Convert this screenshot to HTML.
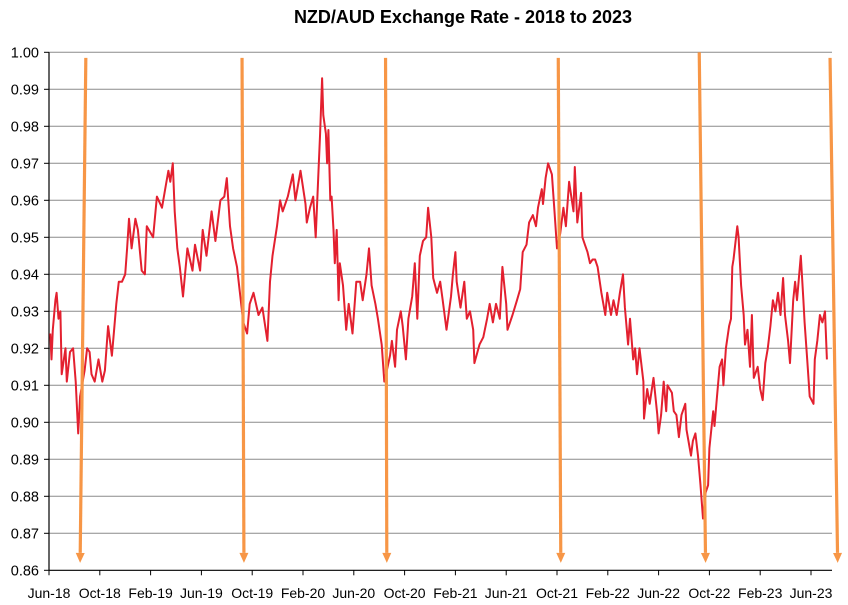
<!DOCTYPE html>
<html><head><meta charset="utf-8">
<style>
html,body{margin:0;padding:0;background:#fff;}
svg{display:block;font-family:"Liberation Sans Narrow","Liberation Sans",sans-serif;}
</style></head>
<body>
<svg id="chart" width="848" height="605" viewBox="0 0 848 605" xmlns="http://www.w3.org/2000/svg">
<text x="463" y="23" text-anchor="middle" font-size="18" font-weight="bold" font-family="Liberation Sans, sans-serif" fill="#000">NZD/AUD Exchange Rate - 2018 to 2023</text>
<g id="grid"></g>
<g id="yaxis"></g>
<g id="xaxis"></g>
<g id="series"></g>
<g id="arrows"></g>
</svg>
<script>
// months since Jun-2018
const months = [0.1,0.2,0.3,0.5,0.6,0.75,0.9,1.0,1.3,1.4,1.65,1.9,2.1,2.3,2.45,2.8,3.0,3.2,3.35,3.6,3.9,4.2,4.4,4.65,4.95,5.1,5.3,5.5,5.75,6.0,6.15,6.3,6.5,6.8,7.0,7.3,7.55,7.7,8.2,8.5,8.9,9.2,9.4,9.55,9.75,9.9,10.1,10.3,10.55,10.9,11.3,11.5,11.9,12.1,12.4,12.8,13.1,13.5,13.8,14.0,14.25,14.5,14.8,15.0,15.3,15.6,15.8,16.1,16.5,16.8,17.2,17.4,17.6,17.95,18.2,18.4,18.8,19.2,19.4,19.8,20.2,20.3,20.55,20.8,21.0,21.2,21.35,21.5,21.6,21.8,21.9,22.0,22.15,22.25,22.4,22.5,22.65,22.8,22.9,23.15,23.4,23.6,23.9,24.2,24.5,24.7,25.0,25.2,25.4,25.7,25.9,26.2,26.4,26.6,26.85,27.0,27.25,27.4,27.7,27.85,28.1,28.3,28.6,28.8,29.0,29.2,29.45,29.7,29.85,30.1,30.25,30.55,30.8,31.0,31.3,31.65,31.8,32.0,32.1,32.4,32.7,32.9,33.15,33.4,33.5,33.9,34.2,34.5,34.7,34.95,35.2,35.5,35.7,36.0,36.1,36.5,36.85,37.1,37.3,37.6,37.8,38.1,38.35,38.5,38.8,38.9,39.1,39.3,39.6,39.8,40.0,40.25,40.5,40.7,40.95,41.3,41.4,41.6,41.9,42.0,42.2,42.4,42.6,42.8,43.0,43.2,43.5,43.8,43.95,44.25,44.45,44.7,44.95,45.2,45.35,45.6,45.75,46.0,46.15,46.3,46.5,46.8,46.85,47.1,47.3,47.6,47.9,48.0,48.2,48.4,48.6,48.7,49.05,49.2,49.4,49.6,49.8,50.1,50.2,50.55,50.7,50.9,51.1,51.3,51.5,51.7,51.9,52.0,52.3,52.4,52.6,52.8,53.0,53.1,53.3,53.55,53.7,53.8,53.9,54.2,54.3,54.5,54.7,54.8,55.0,55.2,55.35,55.5,55.8,56.0,56.2,56.4,56.6,56.8,57.0,57.2,57.4,57.6,57.8,57.95,58.2,58.35,58.6,58.75,58.9,59.05,59.2,59.4,59.5,59.7,59.9,60.2,60.3,60.5,60.7,60.9,61.1,61.25];
const rates = [.924,.917,.925,.933,.935,.928,.930,.913,.920,.911,.919,.920,.911,.897,.907,.914,.920,.919,.913,.911,.917,.911,.914,.926,.918,.924,.932,.938,.938,.940,.947,.955,.947,.955,.952,.941,.940,.953,.950,.961,.958,.964,.968,.965,.970,.957,.947,.942,.934,.947,.941,.948,.941,.952,.945,.957,.949,.960,.961,.966,.953,.947,.942,.936,.927,.924,.932,.935,.929,.931,.922,.938,.945,.953,.960,.957,.961,.967,.960,.968,.959,.954,.958,.961,.950,.966,.978,.993,.983,.978,.970,.979,.960,.961,.952,.943,.952,.933,.943,.937,.925,.932,.924,.938,.938,.933,.940,.947,.937,.932,.928,.921,.911,.914,.918,.922,.915,.925,.930,.926,.917,.928,.934,.943,.928,.945,.949,.950,.958,.950,.939,.935,.938,.933,.925,.934,.940,.946,.938,.931,.938,.928,.930,.925,.916,.921,.923,.928,.932,.927,.932,.928,.942,.932,.925,.929,.933,.936,.946,.948,.954,.956,.953,.958,.963,.959,.966,.970,.967,.957,.947,.951,.958,.953,.965,.957,.969,.954,.962,.950,.948,.946,.943,.944,.944,.942,.935,.929,.935,.929,.933,.929,.935,.940,.931,.921,.928,.917,.920,.913,.920,.911,.901,.909,.905,.912,.902,.897,.902,.911,.903,.910,.908,.903,.902,.896,.902,.905,.898,.891,.895,.897,.891,.883,.874,.881,.883,.893,.903,.899,.907,.915,.917,.910,.920,.926,.928,.942,.944,.953,.950,.937,.929,.921,.925,.915,.929,.912,.915,.909,.906,.916,.920,.926,.933,.930,.935,.929,.939,.929,.922,.916,.933,.938,.933,.939,.945,.933,.927,.917,.907,.905,.917,.922,.929,.927,.930,.917];
const yTicks = [0.86,0.87,0.88,0.89,0.90,0.91,0.92,0.93,0.94,0.95,0.96,0.97,0.98,0.99,1.00];
const xLabels = ["Jun-18","Oct-18","Feb-19","Jun-19","Oct-19","Feb-20","Jun-20","Oct-20","Feb-21","Jun-21","Oct-21","Feb-22","Jun-22","Oct-22","Feb-23","Jun-23"];
const xLabelMonths = [0,4,8,12,16,20,24,28,32,36,40,44,48,52,56,60];
// arrows: [top month, top value, bottom month, bottom value]
const arrowTopMonths = [2.9,15.2,26.5,40.1,51.2,61.5];
const arrowBottomMonths = [2.45,15.35,26.6,40.3,51.7,62.1];
const arrowTopValues = [0.9985,0.9985,0.9985,0.9985,1.0,0.9985];
const arrowBottomValues = [0.862,0.862,0.862,0.862,0.862,0.862];

const NS="http://www.w3.org/2000/svg";
const X0=49, PXM=12.7, Y0=570.3, PXV=3700, XEND=832;
function xs(m){return X0+m*PXM;}
function ys(v){return Y0-(v-0.86)*PXV;}
function mk(tag,attrs,parent){const e=document.createElementNS(NS,tag);for(const k in attrs)e.setAttribute(k,attrs[k]);parent.appendChild(e);return e;}

const grid=document.getElementById('grid'), ya=document.getElementById('yaxis'), xa=document.getElementById('xaxis');
yTicks.forEach(v=>{
  const y=ys(v);
  if(v>0.861){const g=mk('line',{x1:X0,x2:XEND,y1:y,y2:y,stroke:'#8c8c8c','stroke-width':1},grid);
    
    }
  const t=mk('line',{x1:X0-5,x2:X0,y1:y,y2:y,stroke:'#000','stroke-width':1},ya);
  
  
  const l=mk('text',{x:39,y:y+5,'text-anchor':'end','font-size':14.5,fill:'#000'},ya);
  l.textContent=v.toFixed(2);
  
  
});
const yl=mk('line',{x1:X0,x2:X0,y1:ys(1.0),y2:Y0,stroke:'#000','stroke-width':1.2},ya);


const xl=mk('line',{x1:X0,x2:XEND,y1:Y0,y2:Y0,stroke:'#000','stroke-width':1.2},xa);


xLabels.forEach((s,i)=>{
  const x=xs(xLabelMonths[i]);
  const t=mk('line',{x1:x,x2:x,y1:Y0,y2:Y0+5,stroke:'#000','stroke-width':1},xa);
  
  
  const l=mk('text',{x:x,y:598,'text-anchor':'middle','font-size':14,fill:'#000'},xa);
  l.textContent=s;
  
  
});
const series=document.getElementById('series');
const pts=months.map((m,i)=>xs(m).toFixed(1)+','+ys(rates[i]).toFixed(1)).join(' ');
const pl=mk('polyline',{points:pts,fill:'none',stroke:'#e3202f','stroke-width':2,'stroke-linejoin':'round'},series);



const arrows=document.getElementById('arrows');
arrowTopMonths.forEach((m,i)=>{
  const x1=xs(m),y1=ys(arrowTopValues[i]),x2=xs(arrowBottomMonths[i]),y2=ys(arrowBottomValues[i]);
  const g=mk('g',{},arrows);
  
  
  const dx=x2-x1,dy=y2-y1,L=Math.hypot(dx,dy),ux=dx/L,uy=dy/L;
  const hx=x2-ux*10,hy=y2-uy*10;
  mk('line',{x1:x1,y1:y1,x2:hx,y2:hy,stroke:'#f79646','stroke-width':3.2},g);
  mk('polygon',{points:`${x2},${y2} ${hx-uy*4.5},${hy+ux*4.5} ${hx+uy*4.5},${hy-ux*4.5}`,fill:'#f79646'},g);
});
</script>
</body></html>
